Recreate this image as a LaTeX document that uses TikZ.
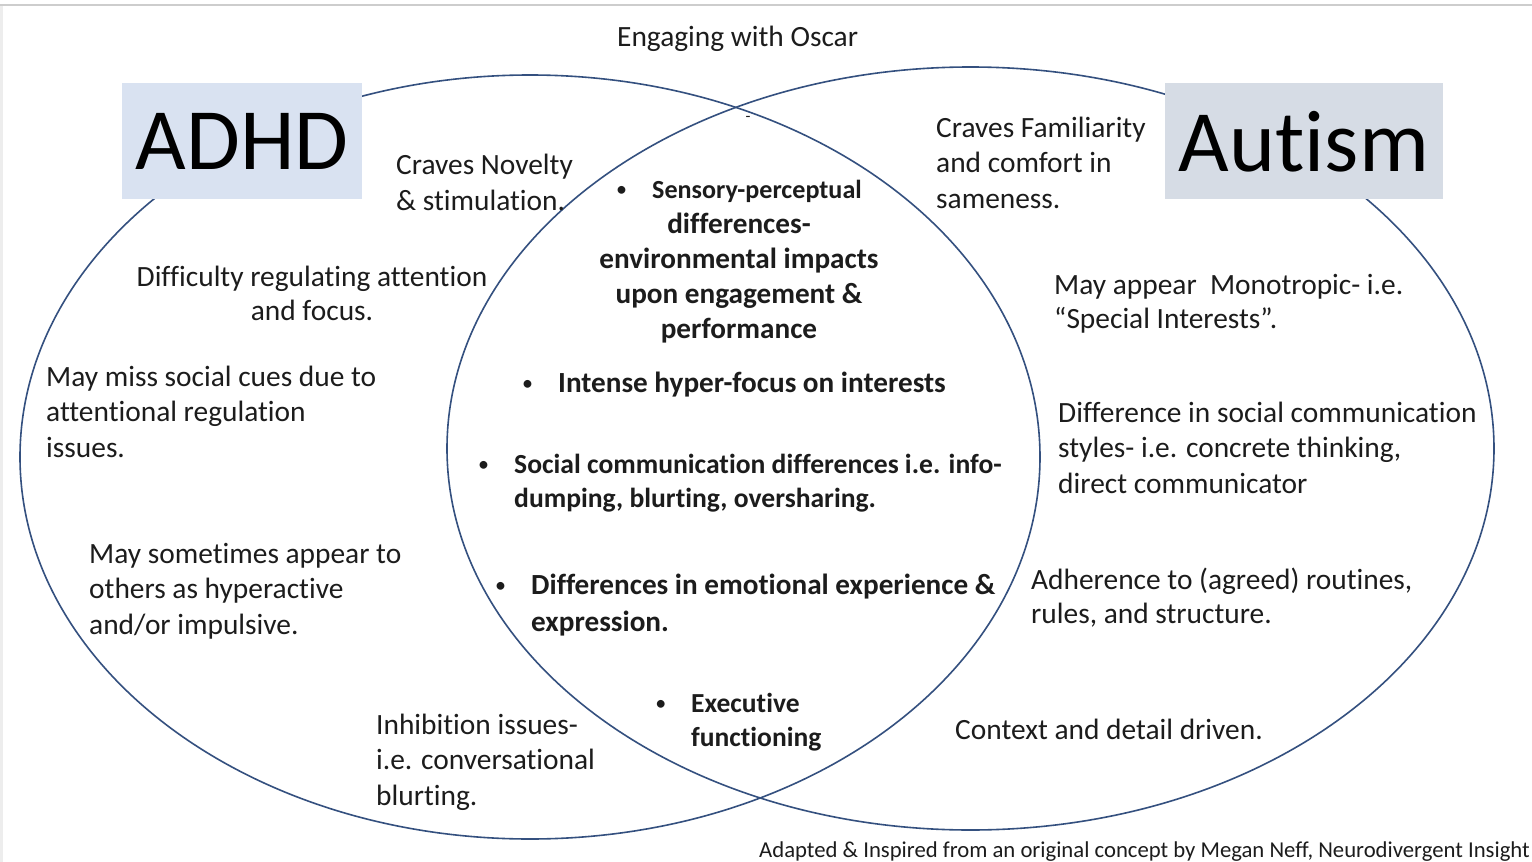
\documentclass[tikz,border=0pt]{standalone}
\usepackage{fontspec}
\setmainfont{Carlito}[Ligatures=NoCommon]
\definecolor{ringblue}{HTML}{34507F}
\definecolor{adhdfill}{HTML}{D9E2F1}
\definecolor{autfill}{HTML}{D6DCE5}
\definecolor{ink}{HTML}{1C1C1C}
\definecolor{edge}{HTML}{CDCDCD}
% small list bullet, and the same bullet hung to the left of a first line
\newcommand{\dotmark}{\raisebox{1.2pt}{\mdseries\fontsize{22}{22}\selectfont\textbullet}}
\newcommand{\bul}{\llap{\dotmark\hspace{25pt}}}
% note: base anchor of a multi-line node sits on its last line
\tikzset{
  ring/.style={draw=ringblue, line width=1.6pt},
  title/.style={inner sep=0pt, text depth=0pt, font=\fontsize{87.5}{88}\selectfont, text=black},
  body/.style={inner sep=0pt, anchor=base west, align=left, text=ink,
               font=\fontsize{29.4}{35.5}\selectfont},
  core/.style={inner sep=0pt, anchor=base west, align=left, text=ink,
               font=\bfseries\fontsize{29.2}{35}\selectfont},
}
\begin{document}
\begin{tikzpicture}[x=1pt,y=-1pt]
\useasboundingbox (0,0) rectangle (1532,862);
\fill[white] (0,0) rectangle (1532,862);
% page edges
\fill[black!7] (0,5) rectangle (3,862);
\draw[edge, line width=2.5pt] (0,5) -- (1532,5);

% the two sets
\draw[ring] (530,457) ellipse [x radius=510pt, y radius=382pt];
\draw[ring] (970.5,448.5) ellipse [x radius=523.5pt, y radius=381.5pt];

% heading boxes, laid over the outlines
\node[title, fill=adhdfill, minimum width=240pt, minimum height=116pt] (adhd) at (242,141) {ADHD};
\node[title, fill=autfill, minimum width=278pt, minimum height=116pt] (autism) at (1304,141) {Autism};

% title
\node[body] (head) at (617,46) {Engaging with Oscar};
\node[inner sep=0pt, anchor=base, text=ink, font=\fontsize{16}{16}\selectfont] (dash) at (748,121) {-};

% ADHD only
\node[body] (nov) at (396,210) {Craves Novelty\\\& stimulation.};
\node[body, anchor=base, align=center, font=\fontsize{29.4}{34}\selectfont] (att) at (312,320)
  {Difficulty regulating attention\\and focus.};
\node[body] (cues) at (46,457) {May miss social cues due to\\attentional regulation\\issues.};
\node[body] (hyp) at (89,634) {May sometimes appear to\\others as hyperactive\\and/or impulsive.};
\node[body] (inh) at (376,805) {Inhibition issues-\\i.e. conversational\\blurting.};

% shared
\node[core, anchor=base, align=center] (sens) at (739,338)
  {\dotmark\hspace{25pt}{\fontsize{26.1}{35}\selectfont Sensory-perceptual}\\differences-\\environmental impacts\\upon engagement \&\\performance};
\node[core] (focus) at (558,392) {\bul Intense hyper-focus on interests};
\node[core, font=\bfseries\fontsize{27.6}{34}\selectfont] (social) at (514,507)
  {\bul Social communication differences i.e. info-\\dumping, blurting, oversharing.};
\node[core, font=\bfseries\fontsize{29.2}{37}\selectfont] (emo) at (531,631)
  {\bul Differences in emotional experience \&\\expression.};
\node[core, font=\bfseries\fontsize{27.5}{34}\selectfont] (exec) at (691,746) {\bul Executive\\functioning};

% Autism only
\node[body] (fam) at (936,208) {Craves Familiarity\\and comfort in\\sameness.};
\node[body, font=\fontsize{29.4}{34}\selectfont] (mono) at (1054,328) {May appear\ \ Monotropic- i.e.\\“Special Interests”.};
\node[body] (comm) at (1058,493) {Difference in social communication\\styles- i.e. concrete thinking,\\direct communicator};
\node[body, font=\fontsize{29.4}{34}\selectfont] (rout) at (1031,623) {Adherence to (agreed) routines,\\rules, and structure.};
\node[body] (ctx) at (955,739) {Context and detail driven.};

% credit
\node[inner sep=0pt, anchor=base east, text=ink, font=\fontsize{22.7}{23}\selectfont] (credit) at (1530,857)
  {Adapted \& Inspired from an original concept by Megan Neff, Neurodivergent Insight};
\end{tikzpicture}
\end{document}
